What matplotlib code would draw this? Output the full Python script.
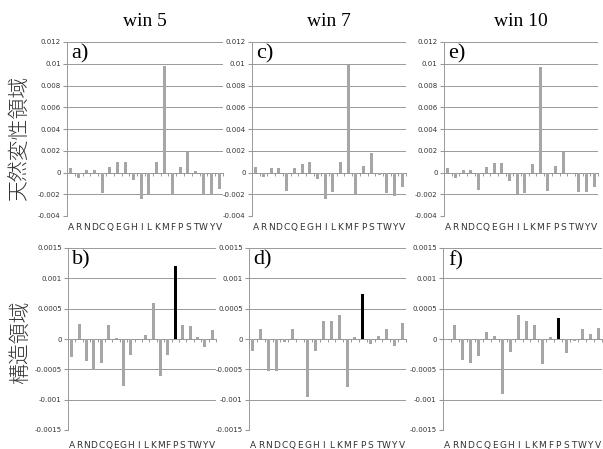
import numpy as np
import matplotlib
matplotlib.use("Agg")
import matplotlib.pyplot as plt
from matplotlib.ticker import FuncFormatter

aa = list("ARNDCQEGHILKMFPSTWYV")
titles = ["win 5", "win 7", "win 10"]
row_names = ["天然変性領域", "構造領域"]

# 天然変性領域 (top row)
idr_win5 = [0.0004, -0.0005, 0.0002, 0.0002, -0.0019, 0.0005, 0.001, 0.001, -0.0007, -0.0024,
            -0.002, 0.001, 0.0098, -0.0021, 0.0005, 0.0019, 0.00015, -0.0021, -0.0021, -0.0015]
idr_win7 = [0.00055, -0.0004, 0.0004, 0.0004, -0.0017, 0.0004, 0.0008, 0.00095, -0.0006, -0.0024,
            -0.0018, 0.00095, 0.0099, -0.002, 0.0006, 0.0018, -0.0002, -0.0019, -0.0022, -0.0013]
idr_win10 = [0.0004, -0.0005, 0.00025, 0.0002, -0.0016, 0.0005, 0.0009, 0.0009, -0.0008, -0.002,
             -0.0019, 0.00075, 0.0097, -0.0017, 0.0006, 0.0019, -0.0001, -0.0018, -0.0018, -0.0013]

# 構造領域 (bottom row)
str_win5 = [-0.00029, 0.00025, -0.00037, -0.00051, -0.0004, 0.00023, 0.00002, -0.00077, -0.00026, 0.0,
            0.00007, 0.0006, -0.00061, -0.00026, 0.0012, 0.00023, 0.00022, 0.00003, -0.00013, 0.00015]
str_win7 = [-0.00019, 0.00017, -0.00052, -0.00053, -0.00005, 0.00016, -0.00001, -0.00096, -0.00019, 0.0003,
            0.0003, 0.00039, -0.00079, 0.00003, 0.00075, -0.00008, 0.00005, 0.00017, -0.00011, 0.00027]
str_win10 = [-0.00001, 0.00023, -0.00034, -0.0004, -0.00028, 0.00012, 0.00005, -0.0009, -0.00022, 0.0004,
             0.0003, 0.00023, -0.00042, 0.00004, 0.00034, -0.00023, -0.00004, 0.00016, 0.00009, 0.00018]

top_vals = [idr_win5, idr_win7, idr_win10]
bot_vals = [str_win5, str_win7, str_win10]
top_letters = ["a)", "c)", "e)"]
bot_letters = ["b)", "d)", "f)"]

W, H = 603, 449
fig = plt.figure(figsize=(W / 100, H / 100), dpi=100)

# axes boxes in pixels: left, right, top, bottom
top_boxes = [(67, 223, 42, 216), (252, 406, 42, 216), (444, 598, 42, 216)]
bot_boxes = [(68, 216, 248, 430), (249, 406, 248, 430), (443, 602, 248, 430)]

gray = "#a6a6a6"
line_gray = "#999999"
serif = ["Liberation Serif", "DejaVu Serif"]
fmt = FuncFormatter(lambda v, p: f"{v:g}" if abs(v) > 1e-12 else "0")


def make_panel(box, vals, ylim, ystep, letter, label_pad, highlight=None):
    l, r, t, b = box
    ax = fig.add_axes([l / W, 1 - b / H, (r - l) / W, (b - t) / H])
    x = np.arange(len(aa))
    colors = [gray] * len(aa)
    if highlight is not None:
        colors[highlight] = "black"
    ax.bar(x, vals, width=0.38, color=colors, zorder=3)
    ax.set_xlim(-0.5, len(aa) - 0.5)
    ax.set_ylim(*ylim)
    ax.set_yticks(np.arange(ylim[0], ylim[1] + ystep / 2, ystep))
    ax.yaxis.set_major_formatter(fmt)
    ax.tick_params(axis="y", labelsize=5, length=3, color=line_gray, pad=1.5,
                   labelcolor="#333333")
    ax.grid(axis="y", color=line_gray, linewidth=0.7, zorder=0)
    for s in ["top", "right"]:
        ax.spines[s].set_visible(False)
    ax.spines["left"].set_color(line_gray)
    ax.spines["left"].set_linewidth(0.7)
    # zero line with small category ticks
    ax.spines["bottom"].set_position(("data", 0))
    ax.spines["bottom"].set_color(line_gray)
    ax.spines["bottom"].set_linewidth(0.7)
    ax.set_xticks(x)
    ax.set_xticks(np.arange(-0.5, len(aa), 1), minor=True)
    ax.tick_params(axis="x", which="major", length=0, labelbottom=False)
    ax.tick_params(axis="x", which="minor", length=2.5, color=line_gray, width=0.7)
    sec = ax.secondary_xaxis(0)
    sec.set_xticks(x, labels=aa)
    sec.tick_params(length=0, labelsize=6.5, pad=label_pad, labelcolor="#333333")
    sec.spines["bottom"].set_visible(False)
    ax.text(0.03, 0.985, letter, transform=ax.transAxes, ha="left", va="top",
            fontsize=16, family=serif)
    return ax


for i in range(3):
    ax = make_panel(top_boxes[i], top_vals[i], (-0.004, 0.012), 0.002, top_letters[i], 5)
    l, r, t, b = top_boxes[i]
    fig.text((l + r) / 2 / W, 1 - 22 / H, titles[i], ha="center", va="center",
             fontsize=14, family=serif)
    make_panel(bot_boxes[i], bot_vals[i], (-0.0015, 0.0015), 0.0005, bot_letters[i], 8,
               highlight=aa.index("P"))

cjk = ["Noto Sans CJK JP", "DejaVu Sans"]
fig.text(20 / W, 1 - 137 / H, row_names[0], rotation=90, ha="center", va="center",
         fontsize=15, family=cjk, weight="light", color="#333333")
fig.text(20 / W, 1 - 342 / H, row_names[1], rotation=90, ha="center", va="center",
         fontsize=15, family=cjk, weight="light", color="#333333")

fig.savefig("out.png", dpi=100)
